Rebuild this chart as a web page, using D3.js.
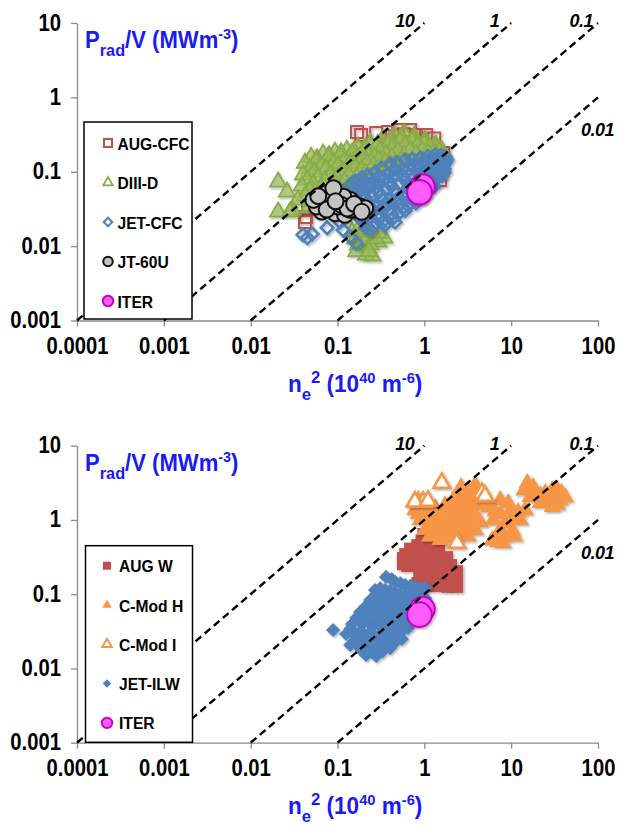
<!DOCTYPE html>
<html>
<head>
<meta charset="utf-8">
<script src="https://cdn.jsdelivr.net/npm/d3@7"></script>
<style>
  html, body { margin: 0; padding: 0; background: #fff; }
  svg { display: block; }
</style>
</head>
<body>
<svg id="fig" width="618" height="827"></svg>
<script>
// Axis ticks (log decades) and their printed labels
const xTicks = [1e-4, 1e-3, 1e-2, 1e-1, 1, 10, 100];
const xTickLabels = ["0.0001", "0.001", "0.01", "0.1", "1", "10", "100"];
const yTicks = [1e-3, 1e-2, 1e-1, 1, 10];
const yTickLabels = ["0.001", "0.01", "0.1", "1", "10"];

// Reference lines Prad/V = k * ne^2
const ratioValues = [10, 1, 0.1, 0.01];
const ratioLabels = ["10", "1", "0.1", "0.01"];

// Upper panel: carbon-wall devices, points are [ne^2 (1e40 m^-6), Prad/V (MW m^-3)]
const augCfc = [
  [0.168, 0.343], [0.187, 0.313], [0.279, 0.333], [0.383, 0.343], [0.499, 0.365],
  [0.686, 0.365], [0.806, 0.313], [1.05, 0.313], [1.65, 0.179], [1.58, 0.131],
  [1.52, 0.0776], [0.0434, 0.0247], [0.0458, 0.0326], [0.0422, 0.0211],
  [0.426, 0.30], [0.58, 0.32], [0.333, 0.196], [1.3, 0.28], [1.45, 0.10]
];
const diiiD = [
  [0.0496, 0.157], [0.0682, 0.173], [0.0935, 0.184], [0.128, 0.195], [0.172, 0.214], [0.238, 0.242],
  [0.326, 0.266], [0.449, 0.31], [0.582, 0.33], [0.763, 0.30], [1.02, 0.266], [1.36, 0.227],
  [0.058, 0.15], [0.08, 0.165], [0.11, 0.18], [0.155, 0.19], [0.21, 0.21], [0.29, 0.235],
  [0.40, 0.26], [0.55, 0.28], [0.75, 0.27], [1.0, 0.25], [1.3, 0.22], [1.6, 0.19],
  [0.0422, 0.131], [0.0566, 0.140], [0.0777, 0.153], [0.1065, 0.163], [0.147, 0.179], [0.202, 0.196],
  [0.279, 0.216], [0.383, 0.237], [0.526, 0.259], [0.724, 0.259], [0.994, 0.237], [1.36, 0.209], [1.69, 0.168],
  [0.048, 0.11], [0.065, 0.12], [0.09, 0.13], [0.12, 0.14], [0.165, 0.155], [0.23, 0.17],
  [0.31, 0.19], [0.43, 0.21], [0.6, 0.225], [0.83, 0.225], [1.15, 0.215], [1.5, 0.19],
  [0.040, 0.0906], [0.0537, 0.0993], [0.0737, 0.109], [0.1011, 0.120], [0.140, 0.131], [0.192, 0.144],
  [0.264, 0.158], [0.362, 0.173], [0.499, 0.190], [0.686, 0.196], [0.942, 0.196], [1.29, 0.185],
  [0.045, 0.078], [0.06, 0.085], [0.083, 0.092], [0.115, 0.10], [0.16, 0.115], [0.22, 0.13],
  [0.30, 0.145], [0.42, 0.155], [0.58, 0.165], [0.8, 0.17], [1.1, 0.175],
  [0.0389, 0.0645], [0.0523, 0.0686], [0.0718, 0.0752], [0.0985, 0.0826], [0.135, 0.0906], [0.186, 0.106],
  [0.257, 0.120], [0.352, 0.135],
  [0.048, 0.056], [0.064, 0.06], [0.088, 0.066], [0.12, 0.075], [0.165, 0.085], [0.21, 0.095],
  [0.29, 0.11], [0.41, 0.12], [0.55, 0.14],
  [0.0422, 0.0473], [0.0566, 0.0473], [0.0777, 0.0519], [0.1065, 0.0569], [0.147, 0.0665],
  [0.052, 0.04], [0.07, 0.042], [0.095, 0.046], [0.13, 0.052],
  [0.0458, 0.0326], [0.063, 0.0337], [0.035, 0.0418],
  [0.147, 0.0155], [0.192, 0.0137], [0.264, 0.0137], [0.172, 0.0104], [0.225, 0.00946],
  [0.294, 0.0114], [0.213, 0.00762], [0.251, 0.00738], [0.344, 0.0129], [0.182, 0.0187],
  [0.16, 0.0125], [0.205, 0.0115], [0.24, 0.0105], [0.28, 0.0125], [0.2, 0.0165],
  [0.24, 0.0155], [0.3, 0.015], [0.165, 0.0085], [0.23, 0.0085],
  [0.0207, 0.0729], [0.0262, 0.0535], [0.0207, 0.0288], [0.030, 0.0307], [0.0284, 0.0288]
];
const jetCfc = [
  [0.14, 0.067], [0.19, 0.083], [0.27, 0.099], [0.40, 0.127], [0.60, 0.144], [0.90, 0.153], [1.33, 0.168], [1.74, 0.158],
  [0.16, 0.075], [0.22, 0.09], [0.32, 0.112], [0.48, 0.134], [0.72, 0.148], [1.1, 0.16], [1.55, 0.165],
  [0.155, 0.060], [0.2, 0.072], [0.3, 0.086], [0.45, 0.108], [0.68, 0.125], [1.0, 0.14], [1.4, 0.155], [1.8, 0.145],
  [0.165, 0.055], [0.24, 0.066], [0.35, 0.08], [0.52, 0.098], [0.75, 0.118], [1.08, 0.135], [1.5, 0.145],
  [0.15, 0.050], [0.19, 0.062], [0.26, 0.075], [0.38, 0.093], [0.56, 0.110], [0.82, 0.126], [1.17, 0.142], [1.65, 0.14],
  [0.147, 0.046], [0.21, 0.057], [0.29, 0.071], [0.43, 0.085], [0.62, 0.099], [0.90, 0.112], [1.26, 0.131], [1.74, 0.131],
  [0.16, 0.043], [0.2, 0.051], [0.28, 0.062], [0.40, 0.075], [0.58, 0.088], [0.85, 0.104], [1.2, 0.116], [1.65, 0.12],
  [0.17, 0.040], [0.25, 0.048], [0.36, 0.058], [0.53, 0.070], [0.76, 0.084], [1.06, 0.098], [1.45, 0.118],
  [0.165, 0.036], [0.21, 0.044], [0.30, 0.053], [0.42, 0.064], [0.60, 0.078], [0.88, 0.092], [1.25, 0.105], [1.7, 0.098],
  [0.16, 0.033], [0.225, 0.039], [0.31, 0.047], [0.45, 0.057], [0.65, 0.069], [0.90, 0.083], [1.23, 0.096], [1.69, 0.109],
  [0.17, 0.030], [0.23, 0.035], [0.33, 0.043], [0.46, 0.052], [0.66, 0.062], [0.95, 0.075], [1.35, 0.090], [1.55, 0.095],
  [0.19, 0.029], [0.27, 0.034], [0.39, 0.041], [0.56, 0.048], [0.78, 0.060], [1.05, 0.072], [1.42, 0.085],
  [0.19, 0.026], [0.26, 0.030], [0.36, 0.037], [0.50, 0.044], [0.70, 0.053], [0.98, 0.065], [1.35, 0.078],
  [0.18, 0.024], [0.25, 0.028], [0.34, 0.034], [0.47, 0.040], [0.65, 0.049], [0.90, 0.059], [1.17, 0.071], [1.60, 0.088],
  [0.22, 0.022], [0.31, 0.024], [0.42, 0.027], [0.57, 0.033], [0.76, 0.041], [1.0, 0.050], [1.3, 0.064],
  [0.2, 0.021], [0.28, 0.025], [0.39, 0.031], [0.54, 0.037], [0.72, 0.045], [0.95, 0.054], [1.2, 0.064],
  [0.21, 0.018], [0.28, 0.020], [0.38, 0.021], [0.50, 0.027], [0.65, 0.035], [0.85, 0.045], [1.1, 0.057],
  [0.26, 0.018], [0.33, 0.021], [0.44, 0.024], [0.6, 0.030], [0.8, 0.038], [1.0, 0.046],
  [0.24, 0.0165], [0.35, 0.019], [0.46, 0.021],
  [0.040, 0.0142], [0.045, 0.0130], [0.051, 0.0146], [0.076, 0.0176], [0.116, 0.0165],
  [0.164, 0.011], [0.14, 0.0133], [0.107, 0.0211]
];
const jt60u = [
  [0.063, 0.0418], [0.0822, 0.0488], [0.107, 0.0418], [0.140, 0.0418], [0.182, 0.034], [0.0659, 0.0291],
  [0.0938, 0.0277], [0.122, 0.0263], [0.167, 0.0307], [0.208, 0.0323], [0.0785, 0.0377], [0.0578, 0.034],
  [0.102, 0.034], [0.140, 0.0307], [0.0754, 0.0514], [0.0527, 0.0418], [0.117, 0.0463], [0.0897, 0.060],
  [0.075, 0.031], [0.11, 0.036], [0.13, 0.032], [0.155, 0.037], [0.095, 0.04], [0.06, 0.047], [0.19, 0.029]
];
const iter = [[0.95, 0.063], [0.88, 0.053]];

// Lower panel: metal-wall devices
const augW = [
  [1.0, 0.63], [1.15, 0.63], [0.95, 0.52], [1.25, 0.50],
  [1.02, 0.571], [1.26, 0.571], [0.849, 0.446], [1.107, 0.446], [1.44, 0.446], [0.7, 0.40],
  [0.95, 0.39], [1.25, 0.39], [0.616, 0.337], [0.7, 0.33],
  [0.806, 0.337], [1.05, 0.337], [1.36, 0.337], [1.78, 0.307], [0.58, 0.30], [0.58, 0.26],
  [0.75, 0.29], [0.95, 0.29], [1.25, 0.29], [1.6, 0.28],
  [0.650, 0.247], [0.849, 0.247], [1.107, 0.247], [1.44, 0.247], [1.98, 0.240], [2.32, 0.199],
  [1.0, 0.21], [1.3, 0.21], [1.7, 0.21], [2.1, 0.19],
  [0.895, 0.181], [1.17, 0.181], [1.52, 0.181], [1.98, 0.165], [2.32, 0.146], [0.849, 0.137],
  [1.0, 0.155], [1.3, 0.155], [1.7, 0.155], [2.0, 0.14], [1.15, 0.135],
  [1.107, 0.133], [1.44, 0.133], [1.88, 0.129], [2.32, 0.129]
];
const cmodH = [
  [0.778, 1.36], [1.02, 1.59], [1.33, 1.45], [1.74, 1.59], [2.26, 1.50], [2.95, 1.59], [3.85, 1.59],
  [0.85, 1.2], [1.1, 1.3], [1.4, 1.2], [1.8, 1.25], [2.3, 1.2], [3.0, 1.25], [3.8, 1.2],
  [0.895, 0.998], [1.17, 1.06], [1.52, 0.998], [1.98, 0.998], [2.58, 0.998], [3.37, 1.06], [4.40, 0.938],
  [1.25, 0.85], [1.6, 0.83], [2.0, 0.82], [2.6, 0.83], [3.3, 0.85],
  [1.02, 0.733], [1.33, 0.689], [1.74, 0.689], [2.26, 0.733], [2.95, 0.689], [3.85, 0.733],
  [1.15, 0.6], [2.5, 0.6], [3.2, 0.6], [1.52, 0.537], [1.98, 0.571],
  [2.65, 2.78], [3.20, 2.53], [3.68, 2.31], [4.40, 2.04], [2.95, 2.04], [5.02, 1.86], [3.85, 2.96], [2.39, 2.17],
  [2.1, 1.8], [2.6, 1.8], [3.3, 1.7], [4.2, 1.7], [5.5, 1.5], [6.5, 1.3], [7.5, 1.2],
  [6.21, 0.998], [7.47, 1.86], [9.23, 1.69], [7.47, 0.733], [8.53, 0.589], [10.3, 0.733], [9.73, 0.998],
  [12.0, 1.28], [8.09, 0.489], [6.04, 0.537], [12.7, 0.998], [14.5, 1.36], [8.5, 0.9], [11, 1.1], [10, 1.4], [11, 0.6], [7, 0.5],
  [15.3, 3.15], [17.9, 2.78], [21.6, 2.17], [24.7, 2.31], [29.7, 2.53], [33.9, 2.53], [36.7, 1.86],
  [29.7, 1.50], [41.9, 2.04], [21.6, 1.69], [16.5, 2.04], [18, 2.4], [20, 2.0], [26, 2.0], [32, 2.2],
  [38, 2.3], [27, 1.7], [14, 2.5], [34, 1.6]
];
const cmodI = [
  [1.59, 3.15], [2.37, 0.489], [0.849, 1.75], [0.969, 1.75], [0.778, 1.76], [1.1, 1.8], [4.6, 2.3], [5.0, 2.1]
];
const jetIlw = [
  [0.362, 0.171], [0.461, 0.146], [0.601, 0.133], [0.784, 0.125], [1.02, 0.121],
  [0.42, 0.16], [0.53, 0.14], [0.69, 0.13], [0.9, 0.122],
  [0.271, 0.114], [0.352, 0.114], [0.461, 0.104], [0.601, 0.0975], [0.784, 0.0917], [1.02, 0.0889],
  [0.31, 0.12], [0.40, 0.11], [0.53, 0.10], [0.69, 0.095], [0.9, 0.09],
  [0.238, 0.0836], [0.310, 0.0785], [0.404, 0.0738], [0.526, 0.0693], [0.686, 0.0673], [0.895, 0.0652],
  [0.27, 0.095], [0.35, 0.09], [0.46, 0.085], [0.6, 0.08], [0.78, 0.077], [1.0, 0.075],
  [0.182, 0.0576], [0.238, 0.0576], [0.310, 0.0541], [0.404, 0.0508], [0.526, 0.0478], [0.686, 0.0478],
  [0.21, 0.068], [0.27, 0.066], [0.35, 0.063], [0.46, 0.06], [0.6, 0.057], [0.78, 0.055], [0.95, 0.06],
  [0.147, 0.0397], [0.192, 0.0397], [0.251, 0.0373], [0.326, 0.0351], [0.426, 0.0351], [0.555, 0.0330],
  [0.165, 0.048], [0.215, 0.047], [0.28, 0.045], [0.36, 0.043], [0.47, 0.041], [0.62, 0.04], [0.8, 0.045],
  [0.126, 0.0291], [0.164, 0.0274], [0.213, 0.0257], [0.279, 0.0242], [0.362, 0.0242], [0.473, 0.0242],
  [0.14, 0.034], [0.185, 0.032], [0.24, 0.031], [0.31, 0.029], [0.4, 0.029], [0.52, 0.029], [0.65, 0.035],
  [0.140, 0.0207], [0.182, 0.0188], [0.238, 0.0177], [0.310, 0.0177], [0.404, 0.0188],
  [0.16, 0.024], [0.21, 0.022], [0.27, 0.021], [0.35, 0.021], [0.45, 0.022], [0.55, 0.025],
  [0.213, 0.0152], [0.279, 0.0147], [0.25, 0.0165], [0.33, 0.017], [0.19, 0.0175],
  [0.0889, 0.0330]
];

// ---------- drawing ----------
const FONT = "'Liberation Sans', Arial, Helvetica, sans-serif";
const TITLE_BLUE = "#1a1af5";
const AXIS_GREY = "#8a8a8a";
const svg = d3.select("#fig");

const defs = svg.append("defs");
defs.append("filter").attr("id", "shadow")
  .attr("x", "-30%").attr("y", "-30%").attr("width", "160%").attr("height", "160%")
  .append("feDropShadow")
  .attr("dx", 1.5).attr("dy", 1.5).attr("stdDeviation", 1.2)
  .attr("flood-color", "#000").attr("flood-opacity", 0.3);

// Marker styles used by both panels
const styles = {
  augCfc: { type: d3.symbolSquare, size: 144, rot: 0, fill: "none", stroke: "#c0504d", sw: 2, lsize: 64 },
  diiiD:  { type: d3.symbolTriangle, size: 115, rot: 0, fill: "rgba(155,188,92,0.65)", stroke: "#89ab47", sw: 1.8, lsize: 40, lfill: "none" },
  jetCfc: { type: d3.symbolSquare, size: 80, rot: 45, fill: "none", stroke: "#4f81bd", sw: 2.6, lsize: 36 },
  jt60u:  { type: d3.symbolCircle, size: 200, rot: 0, fill: "#c3c3c3", stroke: "#111", sw: 2, lsize: 70 },
  iter:   { type: d3.symbolCircle, size: 480, rot: 0, fill: "#ff5cff", stroke: "#c800c8", sw: 2, lsize: 85 },
  augW:   { type: d3.symbolSquare, size: 190, rot: 0, fill: "#c0504d", stroke: "none", sw: 0, lsize: 64 },
  cmodH:  { type: d3.symbolTriangle, size: 130, rot: 0, fill: "#f79646", stroke: "none", sw: 0, lsize: 40 },
  cmodI:  { type: d3.symbolTriangle, size: 120, rot: 0, fill: "#fff", stroke: "#f79646", sw: 2.6, lsize: 40 },
  jetIlw: { type: d3.symbolSquare, size: 100, rot: 45, fill: "#4f81bd", stroke: "none", sw: 0, lsize: 36 }
};

function drawPanel(cfg) {
  const g = svg.append("g");
  const x = d3.scaleLog().domain([xTicks[0], xTicks[xTicks.length - 1]]).range([77, 598]);
  const y = d3.scaleLog().domain([yTicks[0], yTicks[yTicks.length - 1]]).range([cfg.bottom, cfg.top]);

  // axes
  const xa = g.append("g").attr("transform", `translate(0,${cfg.bottom})`)
    .call(d3.axisBottom(x).tickValues(xTicks).tickFormat((d, i) => xTickLabels[i]).tickSize(6).tickSizeOuter(0));
  const ya = g.append("g").attr("transform", "translate(77,0)")
    .call(d3.axisLeft(y).tickValues(yTicks).tickFormat((d, i) => yTickLabels[i]).tickSize(6).tickSizeOuter(0));
  [xa, ya].forEach(a => {
    a.select(".domain").attr("stroke", AXIS_GREY).attr("stroke-width", 1.3);
    a.selectAll(".tick line").attr("stroke", AXIS_GREY).attr("stroke-width", 1.3);
    a.selectAll("text").attr("font-family", FONT).attr("font-weight", "bold")
      .attr("font-size", 23).attr("fill", "#000").attr("dy", null);
  });
  xa.selectAll("text").attr("y", null).attr("text-anchor", "middle")
    .attr("transform", "translate(0,33) scale(0.88,1)");
  ya.selectAll("text").attr("x", null).attr("text-anchor", "end")
    .attr("transform", "translate(-16,7) scale(0.88,1)");

  // data series
  cfg.series.forEach(s => {
    const st = styles[s.key];
    g.append("g").attr("filter", "url(#shadow)")
      .selectAll("path").data(s.data).join("path")
      .attr("transform", d => `translate(${x(d[0])},${y(d[1])}) rotate(${st.rot})`)
      .attr("d", d3.symbol(st.type, st.size)())
      .attr("fill", st.fill).attr("stroke", st.stroke).attr("stroke-width", st.sw)
      .attr("stroke-linejoin", "miter");
  });

  // constant-ratio dashed lines
  const [xd0, xd1] = x.domain();
  const [yd0, yd1] = y.domain();
  ratioValues.forEach((k, i) => {
    const x0 = Math.max(xd0, yd0 / k), x1 = Math.min(xd1, yd1 / k);
    g.append("line")
      .attr("x1", x(x0)).attr("y1", y(k * x0)).attr("x2", x(x1)).attr("y2", y(k * x1))
      .attr("stroke", "#000").attr("stroke-width", 2.4).attr("stroke-dasharray", "7.5,4.5");
    const off = cfg.ratioLabelOffsets[i];
    g.append("text")
      .attr("x", x(x1) + off[0]).attr("y", y(k * x1) + off[1]).attr("text-anchor", off[2])
      .attr("font-family", FONT).attr("font-weight", "bold").attr("font-style", "italic")
      .attr("font-size", 18).attr("letter-spacing", -0.5).text(ratioLabels[i]);
  });

  // y-axis title: Prad/V (MWm-3)
  const yt = g.append("text").attr("transform", `translate(85,${cfg.top + 25}) scale(0.96,1)`)
    .attr("font-family", FONT).attr("font-weight", "bold").attr("fill", TITLE_BLUE);
  yt.append("tspan").attr("font-size", 23).text("P");
  yt.append("tspan").attr("font-size", 17).attr("dy", 8).text("rad");
  yt.append("tspan").attr("font-size", 23).attr("dy", -8).text("/V (MWm");
  yt.append("tspan").attr("font-size", 15).attr("dy", -9).text("-3");
  yt.append("tspan").attr("font-size", 23).attr("dy", 9).text(")");

  // x-axis title: ne^2 (10^40 m^-6)
  const xt = g.append("text").attr("transform", `translate(288,${cfg.bottom + 71}) scale(0.98,1)`)
    .attr("font-family", FONT).attr("font-weight", "bold").attr("fill", TITLE_BLUE);
  xt.append("tspan").attr("font-size", 23).text("n");
  xt.append("tspan").attr("font-size", 17).attr("dy", 8).text("e");
  xt.append("tspan").attr("font-size", 17).attr("dy", -17).text("2");
  xt.append("tspan").attr("font-size", 23).attr("dy", 9).text(" (10");
  xt.append("tspan").attr("font-size", 15).attr("dy", -9).text("40");
  xt.append("tspan").attr("font-size", 23).attr("dy", 9).text(" m");
  xt.append("tspan").attr("font-size", 15).attr("dy", -9).text("-6");
  xt.append("tspan").attr("font-size", 23).attr("dy", 9).text(")");

  // legend
  const L = cfg.legend;
  const lg = g.append("g");
  lg.append("rect").attr("x", L.x).attr("y", L.y).attr("width", L.w).attr("height", L.h)
    .attr("fill", "#fff").attr("stroke", "#000").attr("stroke-width", 1.5);
  cfg.series.forEach((s, i) => {
    const st = styles[s.key];
    const cy = L.row0 + i * L.step;
    lg.append("path")
      .attr("transform", `translate(${L.mx},${cy}) rotate(${st.rot})`)
      .attr("d", d3.symbol(st.type, st.lsize)())
      .attr("fill", st.lfill || st.fill).attr("stroke", st.stroke)
      .attr("stroke-width", Math.min(st.sw, 2));
    lg.append("text").attr("transform", `translate(${L.tx},${cy + 6.5}) scale(0.92,1)`)
      .attr("font-family", FONT).attr("font-weight", "bold").attr("font-size", 17)
      .text(s.label);
  });
}

const labelOffsets = [[-10, 4, "end"], [-12, 4, "end"], [-5, 4, "end"], [-17, 39, "start"]];

drawPanel({
  top: 23, bottom: 320.5,
  ratioLabelOffsets: labelOffsets,
  series: [
    { key: "augCfc", data: augCfc, label: "AUG-CFC" },
    { key: "diiiD", data: diiiD, label: "DIII-D" },
    { key: "jetCfc", data: jetCfc, label: "JET-CFC" },
    { key: "jt60u", data: jt60u, label: "JT-60U" },
    { key: "iter", data: iter, label: "ITER" }
  ],
  legend: { x: 84, y: 122, w: 108, h: 197, mx: 108, tx: 117.5, row0: 143, step: 39.5 }
});

drawPanel({
  top: 445.7, bottom: 742.7,
  ratioLabelOffsets: labelOffsets,
  series: [
    { key: "augW", data: augW, label: "AUG W" },
    { key: "cmodH", data: cmodH, label: "C-Mod H" },
    { key: "cmodI", data: cmodI, label: "C-Mod I" },
    { key: "jetIlw", data: jetIlw, label: "JET-ILW" },
    { key: "iter", data: iter, label: "ITER" }
  ],
  legend: { x: 85.5, y: 545.7, w: 107, h: 196.6, mx: 107, tx: 119, row0: 565.7, step: 39.3 }
});
</script>
</body>
</html>
